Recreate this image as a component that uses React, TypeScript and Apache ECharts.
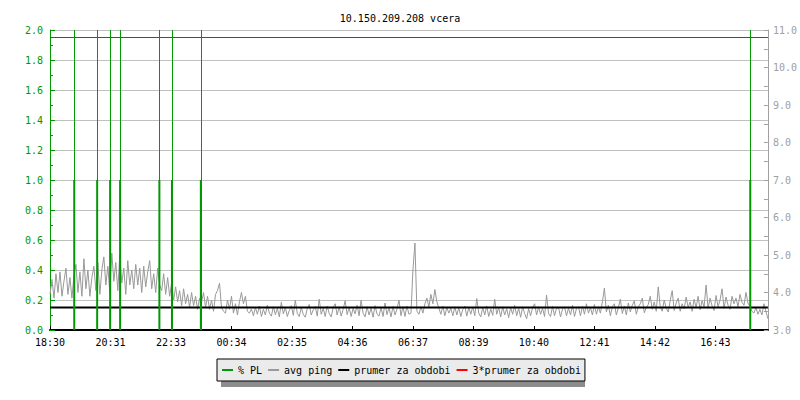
import React, { useEffect, useRef } from 'react';
import * as echarts from 'echarts';

const chartTitle = '10.150.209.208 vcera';
const xTickLabels = ['18:30', '20:31', '22:33', '00:34', '02:35', '04:36', '06:37', '08:39', '10:40', '12:41', '14:42', '16:43'];
const xTickStep = 121.33; // minutes between labelled ticks
const periodMinutes = 1440;

// packet loss events (minutes since 18:30) and their % PL value
const plMinutes = [48.6, 94.6, 120.6, 140.6, 219.4, 244.6, 302.6, 1404.6];
const plValues = [1, 1, 1, 1, 1, 1, 1, 1];

// average ping (ms), one sample every 4 minutes from 18:30
const pingValues = [
  3.95, 4.35, 3.85, 4.5, 4.0, 4.55, 3.9, 4.3, 4.65, 3.95, 4.4, 3.85, 4.45,
  4.75, 4.0, 4.55, 3.9, 4.9, 4.1, 4.6, 3.9, 4.4, 4.7,
  4.05, 4.8, 3.95, 4.6, 4.95, 4.2, 4.7, 4.0, 5.05, 4.3, 4.8, 4.05, 5.0, 4.25, 4.65, 3.95, 4.85, 4.2,
  4.6, 4.1, 4.75, 4.2, 4.65, 4.0, 4.7, 4.15, 4.55, 4.85, 4.1, 4.5, 4.0, 4.65, 4.2,
  4.05, 4.5, 3.95, 4.4, 3.9,
  4.25, 3.8, 4.15, 3.75, 4.05, 3.65, 4.1, 3.7, 3.95, 3.6, 4.0, 3.65, 3.9, 3.55, 3.85,
  3.75, 4.0, 3.6, 3.9, 3.55, 3.8, 3.5, 3.95, 4.05, 4.25, 3.6, 3.5, 3.45, 3.8, 3.55, 3.9, 3.45, 3.7, 3.4, 3.75, 4.0, 3.7, 3.9, 3.5, 3.45,
  3.56, 3.38, 3.6, 3.42, 3.64, 3.36, 3.55, 3.4, 3.66, 3.45,
  3.37, 3.62, 3.41, 3.58, 3.35, 3.74, 3.43, 3.6, 3.36, 3.52,
  3.65, 3.39, 3.8, 3.44, 3.36, 3.6, 3.42, 3.34, 3.57, 3.68,
  3.4, 3.54, 3.63, 3.37, 3.82, 3.42, 3.58, 3.36, 3.64, 3.44,
  3.35, 3.6, 3.7, 3.4, 3.62, 3.37, 3.55, 3.78, 3.41, 3.6,
  3.36, 3.58, 3.43, 3.66, 3.38, 3.8, 3.45, 3.35, 3.62, 3.4,
  3.58, 3.34, 3.65, 3.42, 3.37, 3.6, 3.36, 3.72, 3.41, 3.6,
  3.35, 3.63, 3.4, 3.56, 3.8, 3.38, 3.62, 3.36, 3.64, 3.42,
  3.45, 4.6, 5.32, 3.5,
  3.42, 3.62, 3.45, 3.7, 3.85, 3.62, 3.95, 3.7, 4.08, 3.75, 3.58, 3.42, 3.64, 3.38, 3.6, 3.45,
  3.58, 3.38, 3.62, 3.4, 3.6, 3.36, 3.55, 3.64, 3.37, 3.6,
  3.42, 3.62, 3.38, 3.84, 3.45, 3.35, 3.6, 3.4, 3.64, 3.36,
  3.56, 3.39, 3.82, 3.42, 3.6, 3.35, 3.62, 3.4, 3.57, 3.33,
  3.6, 3.42, 3.66, 3.38, 3.58, 3.34, 3.62, 3.44, 3.3, 3.57,
  3.38, 3.6, 3.7, 3.4, 3.62, 3.42, 3.58, 3.36, 3.93, 3.44,
  3.36, 3.63, 3.38, 3.58, 3.6, 3.35, 3.56, 3.62, 3.38, 3.58,
  3.4, 3.66, 3.36, 3.57, 3.62, 3.38, 3.64, 3.42, 3.7, 3.45,
  3.6, 3.4, 3.68, 3.42, 3.62, 3.45, 3.75, 4.12, 3.48, 3.66,
  3.38, 3.62, 3.7, 3.4, 3.6, 3.82, 3.44, 3.64, 3.4, 3.72,
  3.48, 3.66, 3.78, 3.42, 3.62, 3.7, 3.85, 3.46, 3.6, 3.68,
  3.9, 3.55, 3.75, 3.5, 4.15, 3.62, 3.5, 3.8, 3.58, 3.48,
  3.78, 4.05, 3.52, 3.72, 3.85, 3.5, 3.7, 3.56, 3.88, 3.6,
  3.75, 3.5, 3.82, 3.6, 3.9, 3.54, 3.78, 3.62, 4.2, 3.58,
  3.85, 3.64, 3.52, 3.92, 3.62, 3.8, 4.1, 3.58, 3.88, 3.66,
  3.55, 3.9, 3.7, 3.85, 3.62, 3.95, 3.74, 3.66, 4.0, 3.72,
  3.62, 3.5, 3.45, 3.6, 3.42, 3.55, 3.4, 3.7, 3.5, 3.3,
];

const prumer = [3.6];
const triplePrumer = [10.8];

const legendNames = ['% PL', 'avg ping', 'prumer za obdobi', '3*prumer za obdobi'];

const MONO = 'DejaVu Sans Mono';
const GREEN = '#009900';
const GRAY = '#999999';

export default function App() {
  const ref = useRef<HTMLDivElement>(null);
  useEffect(() => {
    if (!ref.current) return;
    const chart = echarts.init(ref.current, null, { renderer: 'svg' });
    const step = periodMinutes / (pingValues.length - 1);
    chart.setOption({
      animation: false,
      backgroundColor: '#ffffff',
      title: {
        text: chartTitle,
        left: 'center',
        top: 8,
        textStyle: { fontFamily: MONO, fontSize: 10, fontWeight: 'normal', color: '#000' },
      },
      legend: {
        data: legendNames,
        left: 217,
        top: 359,
        orient: 'horizontal',
        icon: 'rect',
        itemWidth: 11,
        itemHeight: 2,
        itemGap: 6,
        padding: [6, 4, 6, 5],
        backgroundColor: '#ebebeb',
        borderColor: '#000',
        borderWidth: 1,
        borderRadius: 0,
        selectedMode: false,
        z: 5,
        textStyle: { fontFamily: MONO, fontSize: 10, color: '#000' },
      },
      graphic: [
        {
          type: 'rect',
          left: 221,
          top: 363,
          z: 1,
          shape: { width: 364, height: 24 },
          style: { fill: '#8c8c8c' },
        },
      ],
      grid: { left: 50, right: 30, top: 30, bottom: 70, containLabel: false },
      xAxis: {
        type: 'value',
        min: 0,
        max: periodMinutes,
        interval: xTickStep,
        axisLine: { show: true, lineStyle: { color: '#000', width: 2 } },
        axisTick: { show: true, inside: true, length: 4, lineStyle: { color: '#000', width: 1 } },
        axisLabel: {
          showMaxLabel: false,
          color: '#000',
          fontFamily: MONO,
          fontSize: 10,
          margin: 7,
          formatter: (v: number) => {
            const idx = Math.round(v / xTickStep);
            return Math.abs(idx * xTickStep - v) < 1 && xTickLabels[idx] ? xTickLabels[idx] : '';
          },
        },
        splitLine: { show: false },
      },
      yAxis: [
        {
          type: 'value',
          min: 0,
          max: 2,
          interval: 0.2,
          position: 'left',
          axisLine: { show: true, lineStyle: { color: GREEN, width: 1 } },
          axisTick: { show: true, inside: true, length: 5, lineStyle: { color: GREEN } },
          minorTick: { show: true, splitNumber: 2, length: 3, lineStyle: { color: GREEN } },
          axisLabel: {
            color: GREEN,
            fontFamily: MONO,
            fontSize: 10,
            margin: 7,
            formatter: (v: number) => v.toFixed(1),
          },
          splitLine: { show: true, lineStyle: { color: '#c0c0c0', width: 1 } },
        },
        {
          type: 'value',
          min: 3,
          max: 11,
          interval: 1,
          position: 'right',
          axisLine: { show: true, lineStyle: { color: '#a0a0a0', width: 1 } },
          axisTick: { show: true, inside: true, length: 4, lineStyle: { color: '#a0a0a0' } },
          minorTick: { show: true, splitNumber: 2, length: 4, lineStyle: { color: '#a0a0a0' } },
          axisLabel: {
            color: '#a0a0a0',
            fontFamily: MONO,
            fontSize: 10,
            margin: 5,
            formatter: (v: number) => v.toFixed(1),
          },
          splitLine: { show: false },
        },
      ],
      series: [
        {
          name: '% PL',
          type: 'bar',
          yAxisIndex: 0,
          barWidth: 2,
          z: 5,
          itemStyle: { color: GREEN },
          data: plMinutes.map((t, i) => [t, plValues[i]]),
          markLine: {
            silent: true,
            symbol: ['none', 'none'],
            label: { show: false },
            emphasis: { disabled: true },
            lineStyle: { color: GREEN, width: 1, type: 'solid' },
            data: plMinutes.map((t) => ({ xAxis: t })),
          },
        },
        {
          name: 'avg ping',
          type: 'line',
          yAxisIndex: 1,
          symbol: 'none',
          showSymbol: false,
          z: 2,
          lineStyle: { color: GRAY, width: 1 },
          itemStyle: { color: GRAY },
          data: pingValues.map((v, i) => [i * step, v]),
        },
        {
          name: 'prumer za obdobi',
          type: 'line',
          yAxisIndex: 1,
          symbol: 'none',
          z: 3,
          lineStyle: { color: '#000', width: 2 },
          itemStyle: { color: '#000' },
          data: [[0, prumer[0]], [periodMinutes, prumer[0]]],
        },
        {
          name: '3*prumer za obdobi',
          type: 'line',
          yAxisIndex: 1,
          symbol: 'none',
          z: 3,
          lineStyle: { color: '#ff0000', width: 1 },
          itemStyle: { color: '#ff0000' },
          data: [[0, triplePrumer[0]], [periodMinutes, triplePrumer[0]]],
        },
      ],
    });
    return () => chart.dispose();
  }, []);
  return (
    <div
      ref={ref}
      style={{ position: 'absolute', left: 0, top: 0, width: 800, height: 400, background: '#fff' }}
    />
  );
}
